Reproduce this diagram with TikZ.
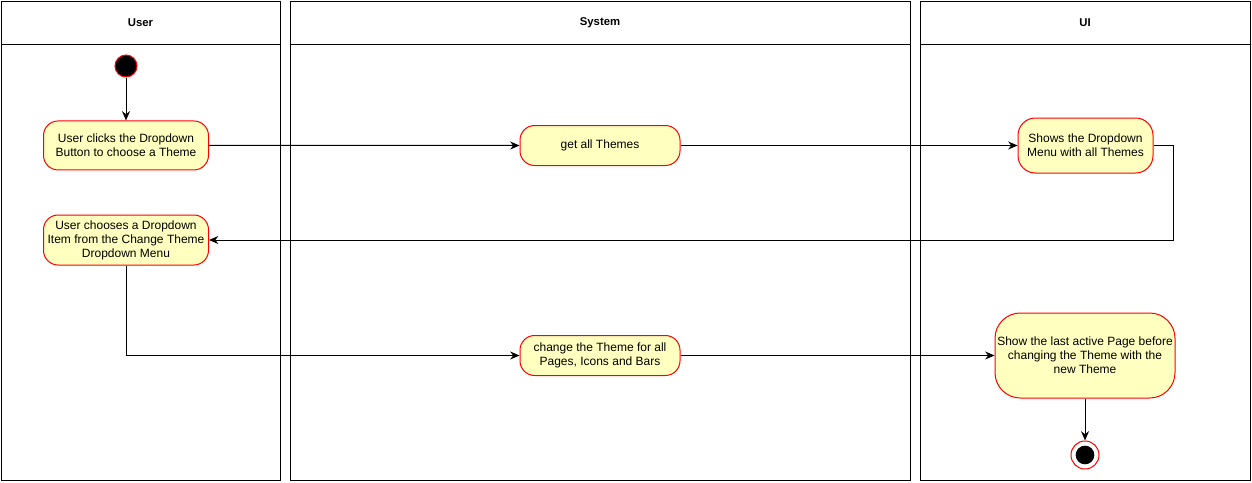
\documentclass[tikz,border=0pt]{standalone}
\usepackage{fontspec}
\setmainfont{Liberation Sans}
\usetikzlibrary{positioning,arrows.meta}
\definecolor{actfill}{HTML}{FFFFC0}

\begin{document}
\begin{tikzpicture}[x=0.75pt,y=-0.75pt,line width=0.75pt,on grid,
  >={Stealth[length=7pt,width=6pt]},
  font=\fontsize{9}{10.5}\selectfont,
  action/.style={rectangle,rounded corners=11pt,draw=red,fill=actfill,
    align=center,inner sep=0pt},
  lanehead/.style={font=\fontsize{8.5}{10.5}\selectfont\bfseries},
  startdot/.style={circle,draw=red,fill=black,minimum size=16.5pt,inner sep=0pt},
  enddot/.style={circle,draw=red,fill=white,minimum size=21pt,inner sep=0pt}]
  \useasboundingbox (0,0) rectangle (1252,482);

  % swimlanes
  \draw (1,1) rectangle (280,480);
  \draw (1,44) -- (280,44);
  \draw (290,1) rectangle (910,480);
  \draw (290,44) -- (910,44);
  \draw (920,1) rectangle (1250,480);
  \draw (920,44) -- (1250,44);
  \node[lanehead] (huser) at (140.5,22.5) {User};
  \node[lanehead] (hsystem) at (600,22.5) {System};
  \node[lanehead] (hui) at (1085,22.5) {UI};

  % actions
  \node[startdot] (start) at (126,66) {};
  \node[action,minimum width=123.75pt,minimum height=36.75pt] (clicks) [below=59.6pt of start]
    {User clicks the Dropdown\\Button to choose a Theme};
  \node[action,minimum width=120pt,minimum height=30pt] (getall) at (600,145.5) {get all Themes};
  \node[action,rounded corners=13pt,minimum width=101.25pt,minimum height=41.25pt] (shows) at (1085.5,145.5)
    {Shows the Dropdown\\Menu with all Themes};
  \node[action,minimum width=123.75pt,minimum height=37.5pt] (chooses) [below=70.9pt of clicks]
    {User chooses a Dropdown\\Item from the Change Theme\\Dropdown Menu};
  \node[action,minimum width=120pt,minimum height=30pt] (change) at (600,355.5)
    {change the Theme for all\\Pages, Icons and Bars};
  \node[action,rounded corners=19pt,minimum width=135pt,minimum height=63.75pt] (showlast) at (1085,355.5)
    {Show the last active Page before\\changing the Theme with the\\new Theme};
  \node[enddot] (finish) at (1085,455) {};
  \node[circle,fill=black,minimum size=14pt,inner sep=0pt] (finishdot) at (finish) {};

  \path[->]
  (start) edge (clicks)
  (clicks) edge (getall)
  (getall) edge (shows)
  (change) edge (showlast)
  (showlast) edge (finish)
  ;
  \draw[->] (shows.east) -- ++(20,0) |- (chooses.east);
  \draw[->] (chooses.south) |- (change.west);
\end{tikzpicture}
\end{document}
